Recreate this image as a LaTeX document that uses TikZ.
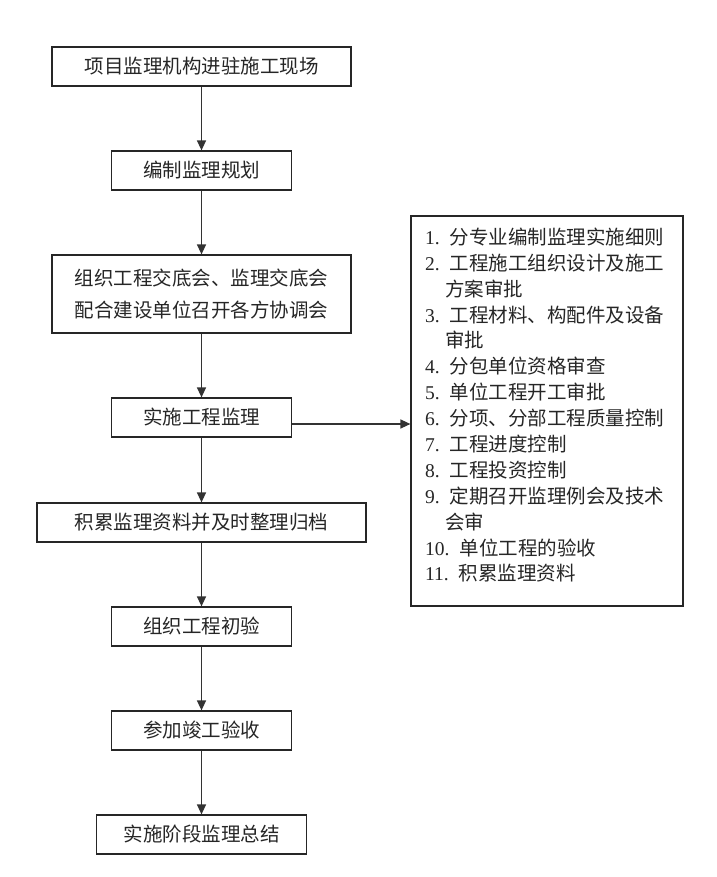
\documentclass[tikz,border=0pt]{standalone}
\usepackage{fontspec}
\setmainfont{Liberation Serif}
\newfontfamily\cjk{Noto Sans CJK SC}
\usetikzlibrary{arrows.meta}
\begin{document}
\begin{tikzpicture}[x=1pt,y=-1pt,
  box/.style={draw=black!85, line width=1.2pt, inner sep=0pt, align=center,
    font=\cjk\fontsize{19.5}{32}\selectfont, text=black!85},
  flow/.style={draw=black!80, line width=1.3pt, -{Triangle[length=10pt,width=9pt]}},
  item/.style={anchor=west, inner sep=0pt, font=\fontsize{19.5}{24}\selectfont, text=black!85}]
\useasboundingbox[fill=white] (0,0) rectangle (716,877);
\node[box, minimum width=299pt, minimum height=39pt] (b1) at (201.5,66.5) {项目监理机构进驻施工现场};
\node[box, minimum width=180pt, minimum height=39pt] (b2) at (201.5,170.5) {编制监理规划};
\node[box, minimum width=299pt, minimum height=78pt] (b3) at (201.5,294) {组织工程交底会、监理交底会\\配合建设单位召开各方协调会};
\node[box, minimum width=180pt, minimum height=39pt] (b4) at (201.5,417.5) {实施工程监理};
\node[box, minimum width=329pt, minimum height=39pt] (b5) at (201.5,522.5) {积累监理资料并及时整理归档};
\node[box, minimum width=180pt, minimum height=39pt] (b6) at (201.5,626.5) {组织工程初验};
\node[box, minimum width=180pt, minimum height=39pt] (b7) at (201.5,730.5) {参加竣工验收};
\node[box, minimum width=210pt, minimum height=39pt] (b8) at (201.5,834.5) {实施阶段监理总结};
\node[box, minimum width=272pt, minimum height=390pt] (list) at (547,411) {};
\draw[flow] (b1) -- (b2);
\draw[flow] (b2) -- (b3);
\draw[flow] (b3) -- (b4);
\draw[flow] (b4) -- (b5);
\draw[flow] (b5) -- (b6);
\draw[flow] (b6) -- (b7);
\draw[flow] (b7) -- (b8);
\coordinate (s) at ([yshift=-6.5pt]b4.east);
\draw[flow] (s) -- (list.west |- s);
\node[item] (i1) at (425,237) {1.\hspace{10pt}{\cjk 分专业编制监理实施细则}};
\node[item] (i2) at (425,263) {2.\hspace{10pt}{\cjk 工程施工组织设计及施工}};
\node[item] (i2b) at (445,289) {\cjk 方案审批};
\node[item] (i3) at (425,315) {3.\hspace{10pt}{\cjk 工程材料、构配件及设备}};
\node[item] (i3b) at (445,340) {\cjk 审批};
\node[item] (i4) at (425,366) {4.\hspace{10pt}{\cjk 分包单位资格审查}};
\node[item] (i5) at (425,392) {5.\hspace{10pt}{\cjk 单位工程开工审批}};
\node[item] (i6) at (425,418) {6.\hspace{10pt}{\cjk 分项、分部工程质量控制}};
\node[item] (i7) at (425,444) {7.\hspace{10pt}{\cjk 工程进度控制}};
\node[item] (i8) at (425,470) {8.\hspace{10pt}{\cjk 工程投资控制}};
\node[item] (i9) at (425,496) {9.\hspace{10pt}{\cjk 定期召开监理例会及技术}};
\node[item] (i9b) at (445,522) {\cjk 会审};
\node[item] (i10) at (425,548) {10.\hspace{10pt}{\cjk 单位工程的验收}};
\node[item] (i11) at (425,573) {11.\hspace{10pt}{\cjk 积累监理资料}};
\end{tikzpicture}
\end{document}
